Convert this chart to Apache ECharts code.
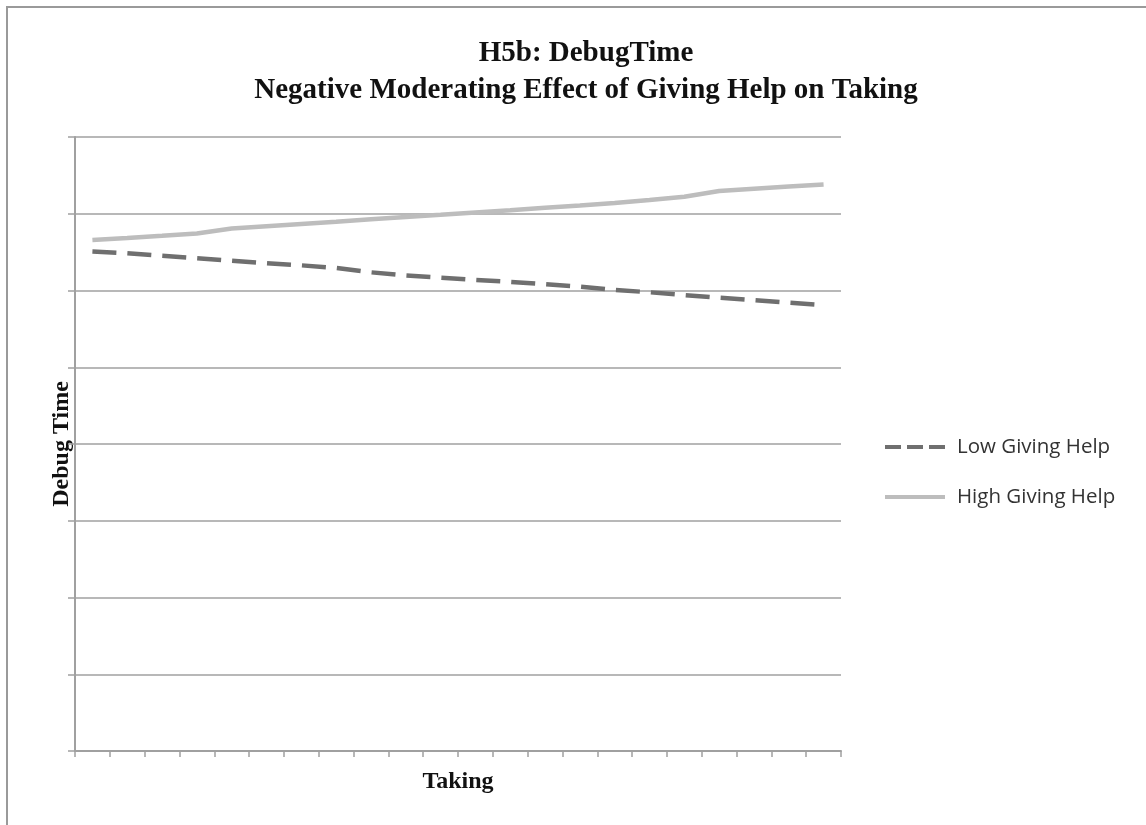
<!DOCTYPE html>
<html>
<head>
<meta charset="utf-8">
<script src="https://cdn.jsdelivr.net/npm/echarts@6/dist/echarts.min.js"></script>
<style>
html,body{margin:0;padding:0;background:#fff;}
#main{width:1146px;height:825px;}
</style>
</head>
<body>
<div id="main"></div>
<script>
// Data (no y tick labels shown; scale 0..8)
const categories = ['1','2','3','4','5','6','7','8','9','10','11','12','13','14','15','16','17','18','19','20','21','22'];
const lowGivingHelp = [6.508,6.485,6.453,6.421,6.388,6.356,6.328,6.293,6.237,6.195,6.167,6.138,6.113,6.082,6.051,6.007,5.977,5.941,5.906,5.876,5.841,5.811];
const highGivingHelp = [6.658,6.684,6.713,6.743,6.808,6.837,6.866,6.895,6.928,6.958,6.986,7.016,7.046,7.077,7.107,7.140,7.179,7.221,7.296,7.325,7.354,7.382];
const seriesNames = ['Low Giving Help','High Giving Help'];
const titleText = 'H5b: DebugTime\nNegative Moderating Effect of Giving Help on Taking';
const xName = 'Taking';
const yName = 'Debug Time';

const chart = echarts.init(document.getElementById('main'), null, {renderer:'canvas'});
const serif = '"Liberation Serif", "DejaVu Serif", serif';
const dashIcon = 'path://M0,0h16v4h-16z M22,0h16v4h-16z M44,0h16v4h-16z';
const solidIcon = 'path://M0,0h60v4h-60z';
chart.setOption({
  animation:false,
  backgroundColor:'#fff',
  graphic:[{type:'rect', shape:{x:7,y:7,width:1200,height:900}, style:{fill:'none', stroke:'#9a9a9a', lineWidth:2}, silent:true}],
  title:{
    text:titleText,
    left:581, top:30, textAlign:'center',
    textStyle:{fontFamily:serif, fontWeight:'bold', fontSize:29, lineHeight:37, color:'#111'}
  },
  legend:{
    orient:'vertical', left:880, top:430,
    itemWidth:60, itemHeight:4, itemGap:26,
    textStyle:{fontFamily:'"Open Sans", "Liberation Sans", sans-serif', fontSize:20.5, color:'#333', lineHeight:24, padding:[0,0,0,7]},
    data:[{name:seriesNames[0], icon:dashIcon},{name:seriesNames[1], icon:solidIcon}]
  },
  grid:{left:75, right:305, top:137, bottom:74, containLabel:false},
  xAxis:{
    type:'category', data:categories, boundaryGap:true,
    name:xName, nameLocation:'middle', nameGap:19,
    nameTextStyle:{fontFamily:serif, fontWeight:'bold', fontSize:24, color:'#111'},
    axisLine:{lineStyle:{color:'#a0a0a0', width:2}},
    axisTick:{show:true, length:6, lineStyle:{color:'#a0a0a0', width:1.5}},
    axisLabel:{show:false},
    splitLine:{show:false}
  },
  yAxis:{
    type:'value', min:0, max:8, interval:1,
    name:yName, nameLocation:'middle', nameGap:1,
    nameTextStyle:{fontFamily:serif, fontWeight:'bold', fontSize:24, color:'#111'},
    axisLine:{show:true, lineStyle:{color:'#a0a0a0', width:2}},
    axisTick:{show:true, length:7, lineStyle:{color:'#a0a0a0', width:1.5}},
    axisLabel:{show:false},
    splitLine:{show:true, lineStyle:{color:'#a0a0a0', width:1.5}}
  },
  series:[
    {name:seriesNames[0], type:'line', data:lowGivingHelp, symbol:'none',
     lineStyle:{color:'#6f6f6f', width:4.5, type:[24,11]}, itemStyle:{color:'#6f6f6f'}},
    {name:seriesNames[1], type:'line', data:highGivingHelp, symbol:'none',
     lineStyle:{color:'#bdbdbd', width:4.5}, itemStyle:{color:'#bdbdbd'}}
  ]
});
</script>
</body>
</html>
